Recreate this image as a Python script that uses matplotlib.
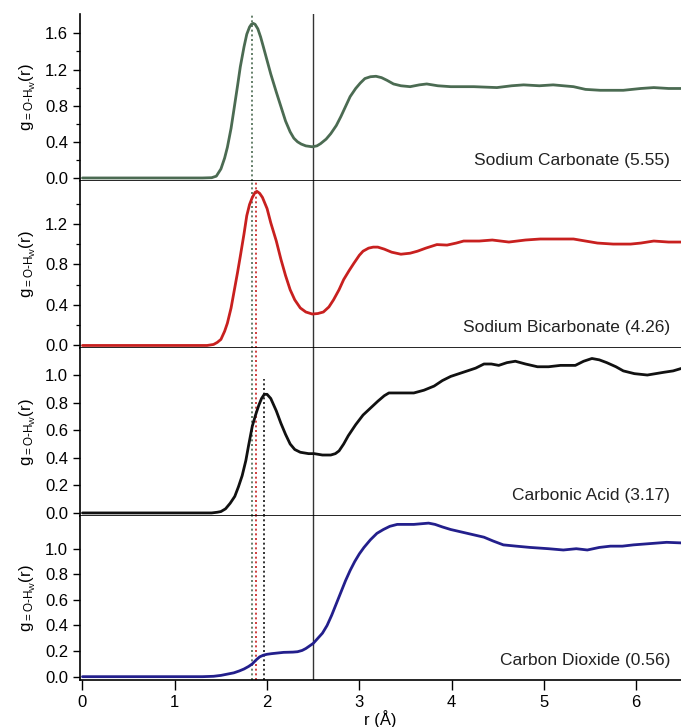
import matplotlib
matplotlib.use("Agg")
import matplotlib.pyplot as plt
from matplotlib.ticker import MultipleLocator, FixedLocator, FormatStrFormatter

plt.rcParams['font.family'] = ['Liberation Sans', 'DejaVu Sans']
plt.rcParams['mathtext.fontset'] = 'custom'
plt.rcParams['mathtext.rm'] = 'Liberation Sans'
plt.rcParams['mathtext.it'] = 'Liberation Sans:italic'
plt.rcParams['mathtext.bf'] = 'Liberation Sans:bold'

# ---------------- data ----------------
labels = ["Sodium Carbonate (5.55)", "Sodium Bicarbonate (4.26)",
          "Carbonic Acid (3.17)", "Carbon Dioxide (0.56)"]
colors = ["#4b6b52", "#c8201f", "#111111", "#231f8c"]

r_na2co3 = [0.0, 1.30, 1.40, 1.45, 1.50, 1.54, 1.57, 1.61, 1.64, 1.68, 1.71, 1.75, 1.78, 1.81,
            1.83, 1.85, 1.87, 1.90, 1.93, 1.96, 2.00, 2.04, 2.10, 2.15, 2.20, 2.25, 2.29, 2.33, 2.37,
            2.42, 2.49, 2.54, 2.58, 2.64, 2.69, 2.75, 2.80, 2.85, 2.90, 2.96, 3.01, 3.06, 3.12,
            3.18, 3.24, 3.30, 3.37, 3.45, 3.55, 3.65, 3.73, 3.85, 3.99, 4.24, 4.49, 4.65, 4.78,
            4.95, 5.10, 5.32, 5.45, 5.61, 5.86, 6.05, 6.19, 6.35, 6.50]
g_na2co3 = [0.0, 0.0, 0.003, 0.02, 0.10, 0.22, 0.34, 0.55, 0.75, 1.02, 1.23, 1.45, 1.59, 1.67,
            1.70, 1.71, 1.70, 1.65, 1.56, 1.45, 1.30, 1.15, 0.95, 0.79, 0.63, 0.51, 0.44, 0.40, 0.375,
            0.355, 0.345, 0.355, 0.38, 0.43, 0.49, 0.58, 0.68, 0.79, 0.90, 0.99, 1.05, 1.10, 1.12,
            1.125, 1.11, 1.08, 1.04, 1.02, 1.01, 1.03, 1.04, 1.02, 1.01, 1.01, 1.00, 1.02, 1.03,
            1.02, 1.03, 1.01, 0.98, 0.97, 0.97, 0.99, 1.00, 0.99, 0.99]

r_nahco3 = [0.0, 1.35, 1.42, 1.46, 1.50, 1.54, 1.57, 1.61, 1.64, 1.68, 1.71, 1.75, 1.78, 1.81,
            1.84, 1.87, 1.89, 1.92, 1.95, 2.00, 2.04, 2.10, 2.15, 2.20, 2.25, 2.30, 2.36, 2.42,
            2.49, 2.55, 2.61, 2.67, 2.72, 2.78, 2.83, 2.89, 2.94, 3.00, 3.04, 3.10, 3.15, 3.20,
            3.27, 3.35, 3.45, 3.55, 3.63, 3.72, 3.84, 3.95, 4.05, 4.13, 4.30, 4.44, 4.62, 4.80,
            4.96, 5.15, 5.32, 5.45, 5.58, 5.75, 5.94, 6.05, 6.19, 6.35, 6.50]
g_nahco3 = [0.0, 0.0, 0.01, 0.03, 0.06, 0.14, 0.22, 0.37, 0.52, 0.72, 0.88, 1.10, 1.28, 1.39,
            1.46, 1.51, 1.52, 1.50, 1.46, 1.35, 1.21, 1.03, 0.85, 0.69, 0.55, 0.45, 0.37, 0.33,
            0.31, 0.315, 0.33, 0.38, 0.45, 0.55, 0.65, 0.74, 0.81, 0.89, 0.93, 0.96, 0.97, 0.97,
            0.95, 0.92, 0.90, 0.91, 0.93, 0.96, 0.995, 0.99, 1.01, 1.03, 1.03, 1.04, 1.02, 1.04,
            1.05, 1.05, 1.05, 1.03, 1.01, 1.00, 1.00, 1.01, 1.03, 1.02, 1.02]

r_h2co3 = [0.0, 1.40, 1.46, 1.50, 1.55, 1.60, 1.65, 1.69, 1.73, 1.77, 1.80, 1.84, 1.88, 1.91,
           1.94, 1.97, 2.00, 2.04, 2.10, 2.15, 2.20, 2.25, 2.30, 2.36, 2.45, 2.51, 2.60, 2.69,
           2.74, 2.78, 2.83, 2.88, 2.96, 3.04, 3.12, 3.20, 3.27, 3.32, 3.45, 3.59, 3.70, 3.81, 3.90,
           3.99, 4.08, 4.17, 4.26, 4.35, 4.43, 4.51, 4.60, 4.69, 4.80, 4.93, 5.05, 5.18, 5.34,
           5.43, 5.52, 5.60, 5.68, 5.78, 5.86, 5.98, 6.12, 6.30, 6.40, 6.50]
g_h2co3 = [0.0, 0.0, 0.005, 0.01, 0.03, 0.07, 0.12, 0.19, 0.27, 0.38, 0.49, 0.63, 0.72, 0.78,
           0.83, 0.86, 0.86, 0.83, 0.74, 0.65, 0.57, 0.50, 0.46, 0.44, 0.43, 0.43, 0.42, 0.42,
           0.43, 0.45, 0.50, 0.56, 0.64, 0.71, 0.76, 0.81, 0.85, 0.87, 0.87, 0.87, 0.89, 0.92, 0.96,
           0.99, 1.01, 1.03, 1.05, 1.08, 1.08, 1.07, 1.09, 1.10, 1.08, 1.06, 1.06, 1.07, 1.07,
           1.10, 1.12, 1.11, 1.09, 1.06, 1.03, 1.01, 1.00, 1.02, 1.03, 1.05]

r_co2 = [0.0, 1.30, 1.42, 1.50, 1.57, 1.64, 1.70, 1.75, 1.80, 1.84, 1.88, 1.92, 1.96, 2.00,
         2.05, 2.18, 2.28, 2.33, 2.38, 2.42, 2.46, 2.50, 2.55, 2.60, 2.65, 2.70, 2.75, 2.80,
         2.85, 2.90, 2.95, 3.00, 3.05, 3.12, 3.19, 3.26, 3.33, 3.41, 3.50, 3.59, 3.67, 3.75,
         3.82, 3.90, 3.99, 4.17, 4.35, 4.45, 4.56, 4.70, 4.85, 5.05, 5.21, 5.35, 5.47, 5.60,
         5.72, 5.85, 5.97, 6.15, 6.33, 6.50]
g_co2 = [0.0, 0.0, 0.003, 0.01, 0.02, 0.03, 0.045, 0.06, 0.08, 0.10, 0.13, 0.155, 0.168, 0.175,
         0.18, 0.19, 0.192, 0.195, 0.205, 0.22, 0.24, 0.26, 0.30, 0.34, 0.40, 0.48, 0.57, 0.66,
         0.75, 0.83, 0.90, 0.96, 1.01, 1.07, 1.12, 1.15, 1.175, 1.19, 1.19, 1.19, 1.195, 1.20,
         1.19, 1.17, 1.15, 1.12, 1.09, 1.06, 1.03, 1.02, 1.01, 1.00, 0.99, 1.00, 0.99, 1.01,
         1.02, 1.02, 1.03, 1.04, 1.05, 1.045]

r_series = [r_na2co3, r_nahco3, r_h2co3, r_co2]
g_series = [g_na2co3, g_nahco3, g_h2co3, g_co2]

peak_r = [1.84, 1.885, 1.97]        # dotted markers (first-peak positions)
cutoff_r = 2.5                      # solid vertical line
black_dot_start = 0.97              # black dotted line starts here in panel 3

ylims = [(-0.028, 1.814), (-0.025, 1.627), (-0.02, 1.196), (-0.026, 1.258)]
yticks = [[0.0, 0.4, 0.8, 1.2, 1.6], [0.0, 0.4, 0.8, 1.2],
          [0.0, 0.2, 0.4, 0.6, 0.8, 1.0], [0.0, 0.2, 0.4, 0.6, 0.8, 1.0]]
yminor = [[0.2, 0.6, 1.0, 1.4], [0.2, 0.6, 1.0, 1.4], [], []]
xticks = [0, 1, 2, 3, 4, 5, 6]

# ---------------- layout ----------------
W, H = 681, 727
fig = plt.figure(figsize=(W / 100, H / 100), dpi=100)
panels_px = [(14, 180.5), (180.5, 348), (348, 515.7), (515.7, 680)]
left_px = 80
axes = []
for (top, bot) in panels_px:
    ax = fig.add_axes([left_px / W, 1 - bot / H, (W - left_px) / W, (bot - top) / H])
    axes.append(ax)

for i, ax in enumerate(axes):
    ax.plot(r_series[i], g_series[i], color=colors[i], lw=2.0, solid_joinstyle='round',
            solid_capstyle='round', zorder=3)
    ax.set_xlim(-0.027, 6.485)
    ax.set_ylim(*ylims[i])
    for s in ['top', 'right']:
        ax.spines[s].set_visible(False)
    for s in ['left', 'bottom']:
        ax.spines[s].set_linewidth(1.2)
    ax.set_xticks(xticks)
    ax.tick_params(axis='x', direction='out', length=7, width=1.0, labelsize=12)
    ax.tick_params(axis='y', which='major', direction='out', length=5, width=1.0, labelsize=12)
    ax.tick_params(axis='y', which='minor', direction='out', length=3, width=0.9)
    if i < 3:
        ax.tick_params(axis='x', labelbottom=False)
    ax.yaxis.set_major_locator(FixedLocator(yticks[i]))
    ax.yaxis.set_minor_locator(FixedLocator(yminor[i]))
    ax.yaxis.set_major_formatter(FormatStrFormatter('%.1f'))
    ax.set_ylabel(r'g$_{\mathregular{=O\text{-}H_W}}$(r)', fontsize=12)
    ax.yaxis.set_label_coords(-0.07, 0.5)
    ax.annotate(labels[i], xy=(1, 0), xycoords='axes fraction', xytext=(-11, 20),
                textcoords='offset pixels', ha='right', va='center', fontsize=12.5,
                color='#222222')
    # solid cutoff line
    ax.axvline(cutoff_r, color='#333333', lw=1.0, zorder=2)

# dotted peak markers
dot_style = dict(lw=1.2, linestyle=(0, (1.2, 1.6)), zorder=2)
for i, ax in enumerate(axes):
    ax.axvline(peak_r[0], color=colors[0], **dot_style)
    if i >= 1:
        ax.axvline(peak_r[1], color=colors[1], **dot_style)
    if i == 2:
        ax.plot([peak_r[2], peak_r[2]], [ylims[2][0], black_dot_start], color=colors[2], **dot_style)
    if i == 3:
        ax.axvline(peak_r[2], color=colors[2], **dot_style)

axes[3].set_xlabel('r (Å)', fontsize=12, labelpad=0)

fig.savefig('out.png', dpi=100)
